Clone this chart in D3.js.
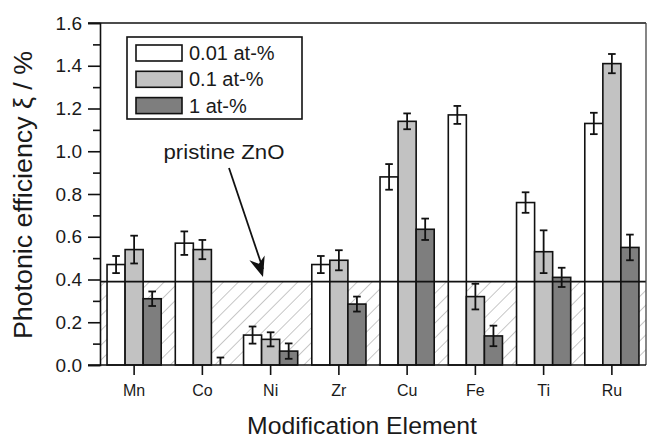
<!DOCTYPE html>
<html>
<head>
<meta charset="utf-8">
<script src="https://cdn.jsdelivr.net/npm/d3@7"></script>
<style>
  html, body { margin: 0; padding: 0; background: #fff; }
  svg { display: block; }
  text { font-family: "Liberation Sans", Arial, Helvetica, sans-serif; fill: #1a1a1a; }
</style>
</head>
<body>
<svg id="chart" width="647" height="440"></svg>
<script>
// ---- data ----
const categories = ["Mn", "Co", "Ni", "Zr", "Cu", "Fe", "Ti", "Ru"];
const seriesNames = ["0.01 at-%", "0.1 at-%", "1 at-%"];
const values001 = [0.47, 0.57, 0.14, 0.47, 0.88, 1.17, 0.76, 1.13];
const errors001 = [0.04, 0.055, 0.04, 0.04, 0.06, 0.042, 0.048, 0.05];
const values01 = [0.54, 0.54, 0.12, 0.49, 1.14, 0.32, 0.53, 1.41];
const errors01 = [0.065, 0.045, 0.033, 0.047, 0.037, 0.06, 0.10, 0.045];
const values1 = [0.31, 0.00, 0.065, 0.285, 0.635, 0.136, 0.41, 0.55];
const errors1 = [0.034, 0.035, 0.036, 0.035, 0.05, 0.048, 0.045, 0.06];
const pristineZnO = 0.39;
const yTicks = [0.0, 0.2, 0.4, 0.6, 0.8, 1.0, 1.2, 1.4, 1.6];
const yMinorTicks = [0.1, 0.3, 0.5, 0.7, 0.9, 1.1, 1.3, 1.5];

const seriesValues = [values001, values01, values1];
const seriesErrors = [errors001, errors01, errors1];
const seriesColors = ["#ffffff", "#c2c2c2", "#7e7e7e"];

// ---- layout ----
const mLeft = 100, mRight = 646, mTop = 23, mBottom = 365;
const svg = d3.select("#chart");

const x = d3.scaleBand().domain(categories).range([mLeft, mRight]).padding(0);
const x1 = d3.scaleBand().domain(seriesNames).range([0, x.bandwidth()]).paddingInner(0).paddingOuter(0.39);
const y = d3.scaleLinear().domain([0, 1.6]).range([mBottom, mTop]);

const defs = svg.append("defs");
const pat = defs.append("pattern")
  .attr("id", "hatch").attr("patternUnits", "userSpaceOnUse")
  .attr("width", 10.5).attr("height", 10.5)
  .attr("patternTransform", "rotate(45)");
pat.append("line").attr("x1", 0).attr("y1", 0).attr("x2", 0).attr("y2", 10.5)
  .attr("stroke", "#8f8f8f").attr("stroke-width", 1);
defs.append("clipPath").attr("id", "plotclip").append("rect")
  .attr("x", mLeft).attr("y", mTop).attr("width", mRight - mLeft).attr("height", mBottom - mTop);

// hatched region below pristine ZnO level
svg.append("rect")
  .attr("x", mLeft).attr("y", y(pristineZnO))
  .attr("width", mRight - mLeft).attr("height", y(0) - y(pristineZnO))
  .attr("fill", "url(#hatch)");

// flatten data
const rows = [];
categories.forEach((c, i) => {
  seriesNames.forEach((s, j) => {
    rows.push({ cat: c, ser: s, j: j, v: seriesValues[j][i], e: seriesErrors[j][i] });
  });
});

// bars
svg.append("g").selectAll("rect").data(rows).join("rect")
  .attr("x", d => x(d.cat) + x1(d.ser))
  .attr("y", d => y(d.v))
  .attr("width", x1.bandwidth())
  .attr("height", d => y(0) - y(d.v))
  .attr("fill", d => seriesColors[d.j])
  .attr("stroke", "#111").attr("stroke-width", 1.6);

// pristine line
svg.append("line")
  .attr("x1", mLeft).attr("x2", mRight)
  .attr("y1", y(pristineZnO)).attr("y2", y(pristineZnO))
  .attr("stroke", "#111").attr("stroke-width", 1.6);

// error bars
const eg = svg.append("g").attr("clip-path", "url(#plotclip)")
  .attr("stroke", "#111").attr("stroke-width", 1.8).attr("fill", "none");
const cap = 3.8;
rows.forEach(d => {
  const cx = x(d.cat) + x1(d.ser) + x1.bandwidth() / 2;
  const yt = y(d.v + d.e), yb = y(Math.max(d.v - d.e, -0.05));
  eg.append("line").attr("x1", cx).attr("x2", cx).attr("y1", yt).attr("y2", yb);
  eg.append("line").attr("x1", cx - cap).attr("x2", cx + cap).attr("y1", yt).attr("y2", yt);
  if (d.v - d.e > 0) {
    eg.append("line").attr("x1", cx - cap).attr("x2", cx + cap).attr("y1", yb).attr("y2", yb);
  }
});

// frame
const axisStroke = "#111";
svg.append("line").attr("x1", mLeft - 12).attr("x2", mRight).attr("y1", mTop).attr("y2", mTop)
  .attr("stroke", axisStroke).attr("stroke-width", 1.6);
svg.append("line").attr("x1", mRight).attr("x2", mRight).attr("y1", mTop).attr("y2", mBottom)
  .attr("stroke", "#444").attr("stroke-width", 1.3);

// y axis
const yAxis = d3.axisLeft(y).tickValues(yTicks).tickSize(12).tickPadding(6)
  .tickFormat(d3.format(".1f"));
const yg = svg.append("g").attr("transform", `translate(${mLeft},0)`).call(yAxis);
yg.select(".domain").attr("stroke", axisStroke).attr("stroke-width", 1.6);
yg.selectAll(".tick line").attr("stroke", axisStroke).attr("stroke-width", 1.6);
yg.selectAll(".tick text").attr("font-size", 19).attr("fill", "#1a1a1a")
  .attr("font-family", '"Liberation Sans", Arial, sans-serif');
const ymg = svg.append("g").attr("transform", `translate(${mLeft},0)`)
  .call(d3.axisLeft(y).tickValues(yMinorTicks).tickSize(7).tickFormat(""));
ymg.select(".domain").remove();
ymg.selectAll(".tick line").attr("stroke", axisStroke).attr("stroke-width", 1.6);

// x axis
const xAxis = d3.axisBottom(x).tickSize(10).tickPadding(10).tickSizeOuter(0);
const xg = svg.append("g").attr("transform", `translate(0,${mBottom})`).call(xAxis);
xg.select(".domain").attr("d", `M${mLeft - 12},0H${mRight}`).attr("stroke", axisStroke).attr("stroke-width", 1.6);
xg.selectAll(".tick line").attr("stroke", axisStroke).attr("stroke-width", 1.6);
xg.selectAll(".tick text").attr("font-size", 16).attr("fill", "#2a2a2a")
  .attr("font-family", '"Liberation Sans", Arial, sans-serif');

// axis titles
svg.append("text").attr("x", 362).attr("y", 434)
  .attr("text-anchor", "middle").attr("font-size", 24)
  .attr("textLength", 230).attr("lengthAdjust", "spacingAndGlyphs")
  .text("Modification Element");
svg.append("text").attr("transform", `translate(32,195) rotate(-90)`)
  .attr("text-anchor", "middle").attr("font-size", 25)
  .attr("textLength", 288).attr("lengthAdjust", "spacingAndGlyphs")
  .text("Photonic efficiency ξ / %");

// legend
const lg = svg.append("g");
lg.append("rect").attr("x", 127).attr("y", 37).attr("width", 175).attr("height", 82)
  .attr("fill", "#fff").attr("stroke", "#111").attr("stroke-width", 1.6);
seriesNames.forEach((s, j) => {
  const cy = 53 + j * 26.3;
  lg.append("rect").attr("x", 136).attr("y", cy - 8).attr("width", 46).attr("height", 16)
    .attr("fill", seriesColors[j]).attr("stroke", "#111").attr("stroke-width", 1.6);
  lg.append("text").attr("x", 189).attr("y", cy + 7).attr("font-size", 20).text(s);
});

// annotation
svg.append("text").attr("x", 224).attr("y", 159).attr("text-anchor", "middle")
  .attr("font-size", 20).attr("textLength", 121).attr("lengthAdjust", "spacingAndGlyphs")
  .text("pristine ZnO");
const ax0 = 229, ay0 = 168, ax1 = 263, ay1 = 277;
svg.append("line").attr("x1", ax0).attr("y1", ay0).attr("x2", ax1).attr("y2", ay1 - 8)
  .attr("stroke", "#111").attr("stroke-width", 1.8);
const ang = Math.atan2(ay1 - ay0, ax1 - ax0) * 180 / Math.PI;
svg.append("path")
  .attr("d", "M0,0 L-20,-8 L-14,0 L-20,8 Z")
  .attr("transform", `translate(${ax1},${ay1}) rotate(${ang})`)
  .attr("fill", "#111");
</script>
</body>
</html>
